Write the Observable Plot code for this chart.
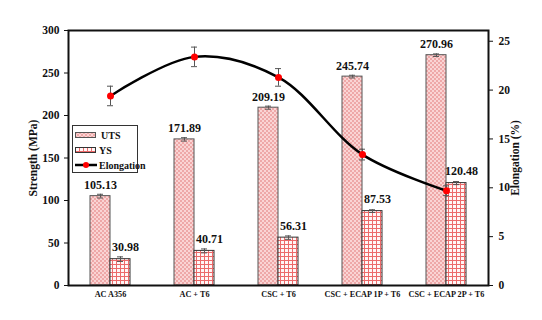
<!DOCTYPE html>
<html><head><meta charset="utf-8">
<script src="https://cdn.jsdelivr.net/npm/d3@7"></script>
<script src="https://cdn.jsdelivr.net/npm/@observablehq/plot@0.6"></script>
<style>
body{margin:0;background:#fff;}
#wrap{position:relative;width:542px;height:320px;}
#wrap svg text{font-family:"Liberation Serif","Times New Roman","DejaVu Serif",serif !important;font-weight:bold;}
#legend{position:absolute;left:72px;top:125px;width:66px;height:48px;border:1px solid #333;background:#fff;box-sizing:border-box;
 font-family:"Liberation Serif","Times New Roman","DejaVu Serif",serif;font-weight:bold;font-size:10px;color:#111;}
#legend .row{position:absolute;left:2px;display:flex;align-items:center;height:12px;}
#legend svg{display:block;margin-right:2px;}
</style>
</head><body><div id="wrap"></div>
<script>
const categories = ["AC A356", "AC + T6", "CSC + T6", "CSC + ECAP 1P + T6", "CSC + ECAP 2P + T6"];
const uts = [105.13, 171.89, 209.19, 245.74, 270.96];
const utsErr = [2.2, 2.0, 1.8, 1.6, 1.5];
const ys = [30.98, 40.71, 56.31, 87.53, 120.48];
const ysErr = [2.7, 2.3, 2.0, 1.6, 1.8];
const elongation = [19.4, 23.4, 21.3, 13.4, 9.7];
const elongErr = [1.0, 1.0, 0.9, 0.55, 0.5];
const strengthTicks = [0, 50, 100, 150, 200, 250, 300];
const elongTicks = [0, 5, 10, 15, 20, 25];
const strengthMax = 300;
const elongMax = 26.1;
const k = strengthMax / elongMax;

const data = categories.map((c, i) => ({
  cat: c, uts: uts[i], utsErr: utsErr[i], ys: ys[i], ysErr: ysErr[i],
  el: elongation[i] * k, elLo: (elongation[i] - elongErr[i]) * k, elHi: (elongation[i] + elongErr[i]) * k
}));

const errColor = "#555";
const serif = "Liberation Serif, Times New Roman, DejaVu Serif, serif";

const svg = Plot.plot({
  width: 542, height: 320,
  marginLeft: 68, marginRight: 54, marginTop: 30, marginBottom: 35,
  style: {fontFamily: serif, fontWeight: "bold", fontSize: "11px", background: "white", color: "#111"},
  x: {domain: categories, paddingInner: 44/84, paddingOuter: 22/84},
  y: {domain: [0, strengthMax]},
  marks: [
    Plot.barY(data, {x: "cat", y: "uts", insetRight: 20, fill: "url(#utsPat)", stroke: "#555", strokeWidth: 1}),
    Plot.barY(data, {x: "cat", y: "ys", insetLeft: 20, fill: "url(#ysPat)", stroke: "#333", strokeWidth: 1}),
    Plot.ruleX(data, {x: "cat", y1: d => d.uts - d.utsErr, y2: d => d.uts + d.utsErr, dx: -10, stroke: errColor}),
    Plot.tickY(data, {x: "cat", y: d => d.uts - d.utsErr, insetLeft: 7, insetRight: 27, stroke: errColor}),
    Plot.tickY(data, {x: "cat", y: d => d.uts + d.utsErr, insetLeft: 7, insetRight: 27, stroke: errColor}),
    Plot.ruleX(data, {x: "cat", y1: d => d.ys - d.ysErr, y2: d => d.ys + d.ysErr, dx: 10, stroke: errColor}),
    Plot.tickY(data, {x: "cat", y: d => d.ys - d.ysErr, insetLeft: 27, insetRight: 7, stroke: errColor}),
    Plot.tickY(data, {x: "cat", y: d => d.ys + d.ysErr, insetLeft: 27, insetRight: 7, stroke: errColor}),
    Plot.text(data, {x: "cat", y: "uts", text: d => d.uts.toFixed(2), dx: -10, dy: -7, lineAnchor: "bottom", fontSize: 12, fill: "#111"}),
    Plot.text(data, {x: "cat", y: "ys", text: d => d.ys.toFixed(2), dx: 15, dy: -8, lineAnchor: "bottom", fontSize: 12, fill: "#111"}),
    Plot.line(data, {x: "cat", y: "el", curve: "catmull-rom", stroke: "#000", strokeWidth: 2.5}),
    Plot.ruleX(data, {x: "cat", y1: "elLo", y2: "elHi", stroke: errColor}),
    Plot.tickY(data, {x: "cat", y: "elLo", insetLeft: 17, insetRight: 17, stroke: errColor}),
    Plot.tickY(data, {x: "cat", y: "elHi", insetLeft: 17, insetRight: 17, stroke: errColor}),
    Plot.dot(data, {x: "cat", y: "el", r: 3.5, fill: "#f00", stroke: "none"}),
    Plot.axisY({anchor: "left", ticks: strengthTicks, tickSize: 4, tickPadding: 5, fontSize: 11.5,
      label: "Strength (MPa)", labelAnchor: "center", labelArrow: "none", labelOffset: 40}),
    Plot.axisY({anchor: "right", ticks: elongTicks.map(v => v * k), tickFormat: d => Math.round(d / k),
      tickSize: 4, tickPadding: 6, fontSize: 11.5,
      label: "Elongation (%)", labelAnchor: "center", labelArrow: "none", labelOffset: 30}),
    Plot.axisX({tickSize: 0, tickPadding: 6, fontSize: 8.2, label: null}),
    Plot.frame({stroke: "#111", strokeWidth: 2})
  ]
});

const defs = d3.select(svg).insert("defs", ":first-child");
const p1 = defs.append("pattern").attr("id", "utsPat").attr("patternUnits", "userSpaceOnUse").attr("width", 4).attr("height", 4);
p1.append("rect").attr("width", 4).attr("height", 4).attr("fill", "#fad4d4");
p1.append("rect").attr("width", 2).attr("height", 2).attr("fill", "#eea8a8");
p1.append("rect").attr("x", 2).attr("y", 2).attr("width", 2).attr("height", 2).attr("fill", "#eea8a8");
const p2 = defs.append("pattern").attr("id", "ysPat").attr("patternUnits", "userSpaceOnUse").attr("width", 4).attr("height", 4);
p2.append("rect").attr("width", 4).attr("height", 4).attr("fill", "#fff6f6");
p2.append("rect").attr("width", 4).attr("height", 1).attr("fill", "#ec6a6a");
p2.append("rect").attr("width", 1).attr("height", 4).attr("fill", "#ec6a6a");

const wrap = document.getElementById("wrap");
wrap.appendChild(svg);

const legend = document.createElement("div");
legend.id = "legend";
legend.innerHTML = `
 <div class="row" style="top:3px"><svg width="22" height="6"><rect x="0.5" y="0.5" width="20" height="5" fill="url(#utsPat)" stroke="#555"/></svg><span style="margin-left:2px">UTS</span></div>
 <div class="row" style="top:18px"><svg width="22" height="6"><rect x="0.5" y="0.5" width="20" height="5" fill="url(#ysPat)" stroke="#333"/></svg><span>YS</span></div>
 <div class="row" style="top:33px"><svg width="22" height="8"><line x1="0" x2="22" y1="4" y2="4" stroke="#000" stroke-width="2.5"/><circle cx="11" cy="4" r="3" fill="#f00"/></svg><span>Elongation</span></div>`;
wrap.appendChild(legend);
</script>
</body></html>
